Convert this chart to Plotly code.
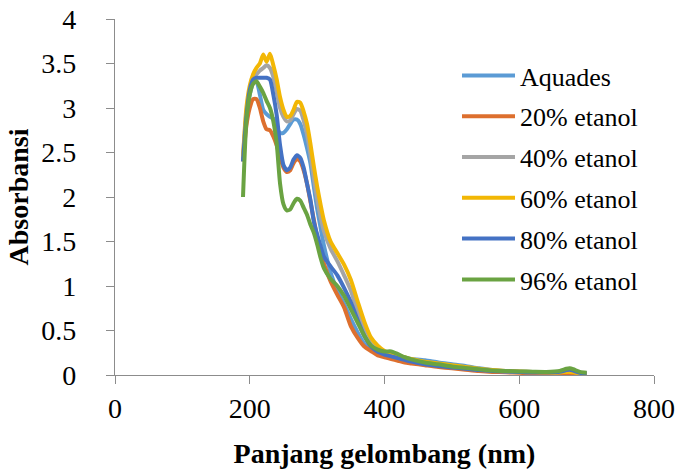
import plotly.graph_objects as go

# Wavelength grid (nm)
wavelength = [190, 195, 200, 205, 210, 215, 220, 225, 230, 235, 240, 245, 250, 255,
              260, 265, 270, 275, 280, 285, 290, 295, 300, 305, 310, 320, 330, 340,
              350, 360, 370, 380, 390, 400, 410, 420, 430, 440, 460, 480, 500, 520,
              540, 560, 580, 600, 620, 640, 660, 670, 675, 680, 690, 700]

aquades = [2.40, 2.90, 3.15, 3.28, 3.30, 3.15, 2.98, 2.93, 2.90, 2.88, 2.78, 2.72, 2.72, 2.76,
           2.82, 2.87, 2.87, 2.82, 2.70, 2.55, 2.38, 2.12, 1.87, 1.66, 1.46, 1.15, 0.95, 0.80,
           0.63, 0.48, 0.35, 0.28, 0.24, 0.22, 0.21, 0.20, 0.19, 0.18, 0.165, 0.14, 0.12, 0.10,
           0.075, 0.055, 0.045, 0.04, 0.035, 0.03, 0.03, 0.03, 0.03, 0.03, 0.02, 0.015]

etanol_20 = [2.40, 2.80, 3.00, 3.10, 3.10, 3.00, 2.85, 2.76, 2.75, 2.68, 2.58, 2.45, 2.33, 2.28,
             2.30, 2.38, 2.43, 2.40, 2.30, 2.15, 1.95, 1.75, 1.55, 1.38, 1.25, 1.05, 0.90, 0.76,
             0.55, 0.42, 0.32, 0.27, 0.22, 0.20, 0.18, 0.16, 0.14, 0.13, 0.11, 0.09, 0.075, 0.06,
             0.045, 0.035, 0.03, 0.025, 0.02, 0.02, 0.02, 0.02, 0.02, 0.02, 0.015, 0.01]

etanol_40 = [2.45, 2.95, 3.20, 3.35, 3.38, 3.42, 3.45, 3.48, 3.45, 3.35, 3.18, 3.00, 2.90, 2.85,
             2.86, 2.93, 2.99, 2.97, 2.86, 2.70, 2.48, 2.22, 1.98, 1.78, 1.62, 1.42, 1.28, 1.12,
             0.95, 0.72, 0.50, 0.35, 0.28, 0.25, 0.23, 0.21, 0.19, 0.17, 0.14, 0.12, 0.10, 0.08,
             0.06, 0.05, 0.04, 0.035, 0.03, 0.03, 0.03, 0.04, 0.04, 0.035, 0.02, 0.015]

etanol_60 = [2.45, 3.00, 3.25, 3.38, 3.45, 3.50, 3.60, 3.52, 3.61, 3.48, 3.32, 3.12, 2.98, 2.90,
             2.91, 2.98, 3.07, 3.06, 2.96, 2.82, 2.60, 2.35, 2.12, 1.92, 1.74, 1.50, 1.37, 1.24,
             1.07, 0.83, 0.60, 0.42, 0.33, 0.27, 0.235, 0.22, 0.20, 0.18, 0.15, 0.13, 0.11, 0.09,
             0.07, 0.055, 0.045, 0.04, 0.035, 0.03, 0.03, 0.035, 0.035, 0.03, 0.02, 0.015]

etanol_80 = [2.40, 2.90, 3.20, 3.32, 3.34, 3.34, 3.34, 3.34, 3.32, 3.15, 2.92, 2.58, 2.36, 2.30,
             2.33, 2.42, 2.47, 2.44, 2.33, 2.15, 1.97, 1.73, 1.58, 1.45, 1.33, 1.22, 1.12, 0.98,
             0.82, 0.62, 0.44, 0.32, 0.26, 0.23, 0.21, 0.19, 0.17, 0.15, 0.12, 0.10, 0.085, 0.07,
             0.055, 0.045, 0.04, 0.035, 0.03, 0.03, 0.035, 0.055, 0.06, 0.05, 0.025, 0.02]

etanol_96 = [2.00, 2.85, 3.15, 3.27, 3.30, 3.24, 3.17, 3.08, 3.00, 2.85, 2.60, 2.15, 1.92, 1.85,
             1.86, 1.93, 1.98, 1.96, 1.88, 1.80, 1.69, 1.60, 1.47, 1.32, 1.20, 1.08, 1.00, 0.89,
             0.74, 0.59, 0.44, 0.33, 0.285, 0.265, 0.265, 0.235, 0.20, 0.175, 0.14, 0.12, 0.095, 0.08,
             0.065, 0.05, 0.045, 0.04, 0.037, 0.035, 0.045, 0.07, 0.075, 0.065, 0.035, 0.025]

series_names = ["Aquades", "20% etanol", "40% etanol", "60% etanol", "80% etanol", "96% etanol"]
series_values = [aquades, etanol_20, etanol_40, etanol_60, etanol_80, etanol_96]
series_colors = ["#5B9BD5", "#DD6F2E", "#A5A5A5", "#F2B705", "#4472C4", "#6AA342"]

x_ticks = [0, 200, 400, 600, 800]
y_ticks = [0, 0.5, 1, 1.5, 2, 2.5, 3, 3.5, 4]
y_tick_text = ["0", "0.5", "1", "1.5", "2", "2.5", "3", "3.5", "4"]

FONT = "Liberation Serif"
AXIS_COLOR = "#8C8C8C"

fig = go.Figure()
for i, (name, vals, col) in enumerate(zip(series_names, series_values, series_colors)):
    fig.add_trace(go.Scatter(
        x=wavelength, y=vals, name=name, mode="lines",
        line=dict(color=col, width=4, shape="spline", smoothing=0.6),
        legendgroup=f"g{i}",
    ))

# Plot area spans 115..654 px horizontally, 19..375 px vertically
plot_w = 683 - 115 - 29
plot_h = 474 - 19 - 99

fig.update_layout(
    width=683, height=474,
    margin=dict(l=115, r=29, t=19, b=99, autoexpand=False),
    paper_bgcolor="white", plot_bgcolor="white",
    font=dict(family=FONT, color="black", size=26),
    showlegend=True,
    legend=dict(
        x=(457 - 115) / plot_w, y=(375 - 52) / plot_h,
        xanchor="left", yanchor="top",
        xref="paper", yref="paper",
        font=dict(family=FONT, size=26, color="black"),
        bgcolor="rgba(0,0,0,0)",
        traceorder="grouped", tracegroupgap=4,
        itemwidth=53,
    ),
    xaxis=dict(
        range=[0, 800], tickvals=x_ticks, showgrid=False, zeroline=False,
        showline=True, linecolor=AXIS_COLOR, linewidth=1.3,
        ticks="outside", ticklen=8, tickcolor=AXIS_COLOR, tickwidth=1.3,
        tickfont=dict(family=FONT, size=28), automargin=False,
        title=dict(text="<b>Panjang gelombang (nm)</b>", font=dict(family=FONT, size=28), standoff=20),
    ),
    yaxis=dict(
        range=[0, 4], tickvals=y_ticks, ticktext=y_tick_text, showgrid=False, zeroline=False,
        showline=True, linecolor=AXIS_COLOR, linewidth=1.3,
        ticks="outside", ticklen=8, tickcolor=AXIS_COLOR, tickwidth=1.3,
        ticklabelstandoff=24, automargin=False,
        tickfont=dict(family=FONT, size=28),
        title=dict(text="<b>Absorbansi</b>", font=dict(family=FONT, size=28), standoff=4),
    ),
)

fig.write_html("out.html")
